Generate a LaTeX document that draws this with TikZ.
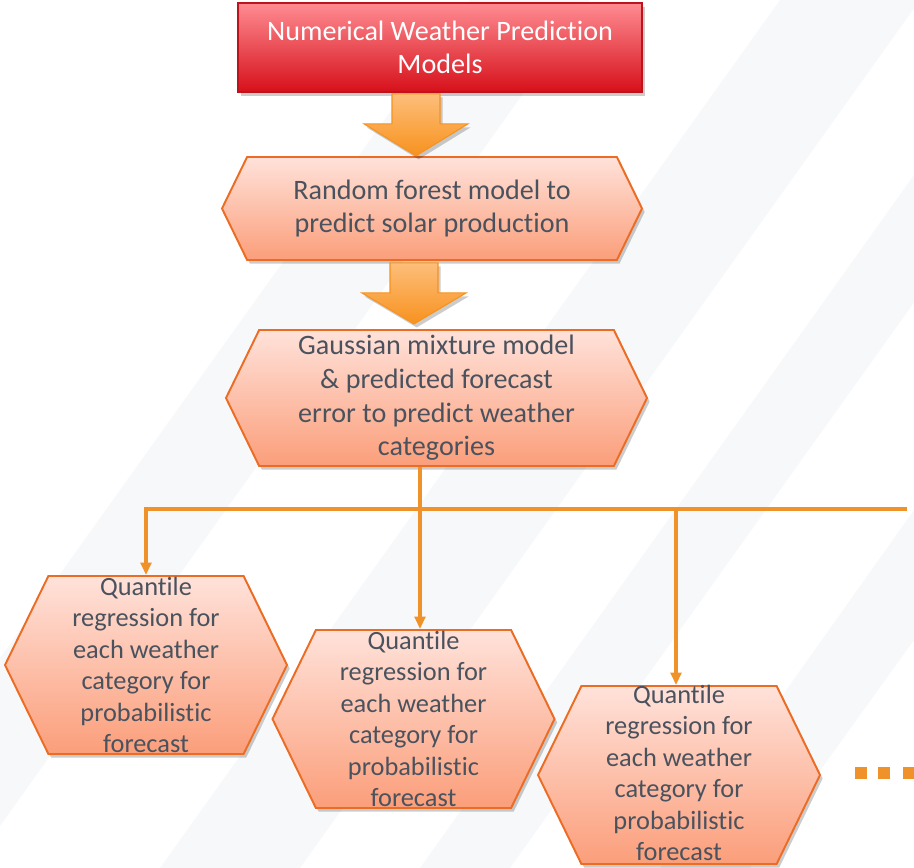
\documentclass[tikz,border=0pt]{standalone}
\usepackage{fontspec}
\setmainfont{Carlito}[Ligatures=NoCommon]
\usetikzlibrary{arrows.meta, positioning, shapes.symbols, shadows, calc}

\definecolor{nwptop}{RGB}{255,140,146}
\definecolor{nwpbot}{RGB}{214,16,26}
\definecolor{nwpline}{RGB}{190,18,28}
\definecolor{hextop}{RGB}{255,226,218}
\definecolor{hexbot}{RGB}{251,158,122}
\definecolor{hexline}{RGB}{236,108,36}
\definecolor{arrtop}{RGB}{253,190,122}
\definecolor{arrbot}{RGB}{247,146,30}
\definecolor{flowline}{RGB}{240,146,42}
\definecolor{txtgray}{RGB}{74,82,94}
\definecolor{stripe}{RGB}{247,248,250}

\newcommand{\quantiletext}{Quantile\\regression for\\each weather\\category for\\probabilistic\\forecast}

\tikzset{
  softshadow/.style={drop shadow={shadow xshift=1.5pt, shadow yshift=-2pt, opacity=0.2, fill=black}},
  hexbox/.style={signal, signal to=east and west, signal pointer angle=128, draw=hexline,
    line width=1.1pt, top color=hextop, bottom color=hexbot, text=txtgray, align=center,
    inner sep=0pt, softshadow},
  qbox/.style={hexbox, minimum width=5.64cm, minimum height=3.56cm},
  qtext/.style={text=txtgray, align=center, font=\fontsize{15}{17.9}\selectfont},
  bigarrow/.style={draw=arrbot, line width=0.6pt, top color=arrtop, bottom color=arrbot, softshadow},
  flow/.style={draw=flowline, line width=2.2pt, -{Triangle[width=6pt,length=7pt]}},
}

\begin{document}
\begin{tikzpicture}[font=\fontsize{16}{19.1}\selectfont]
  \useasboundingbox (0,0) rectangle (18.28,-17.36);
  % faint background stripes
  \fill[stripe] (-3,-17.36) -- (-0.6,-17.36) -- (11.8,0) -- (9.4,0) -- cycle;
  \fill[stripe] (3.2,-17.36) -- (6.0,-17.36) -- (18.4,0) -- (15.6,0) -- cycle;
  \fill[stripe] (8.4,-17.36) -- (10.2,-17.36) -- (18.28,-6.05) -- (18.28,-3.5) -- cycle;
  \fill[stripe] (13.2,-17.36) -- (15.0,-17.36) -- (18.28,-12.8) -- (18.28,-10.2) -- cycle;

  \node[rectangle, draw=nwpline, line width=1pt, top color=nwptop, bottom color=nwpbot,
    text=white, align=center, minimum width=8.08cm, minimum height=1.78cm, softshadow]
    (nwp) at (8.8,-0.95) {Numerical Weather Prediction\\Models};
  \node[hexbox, minimum width=8.4cm, minimum height=2.06cm] (rf) at (8.64,-4.17)
    {Random forest model to\\predict solar production};
  \node[hexbox, minimum width=8.42cm, minimum height=2.72cm] (gm) at (8.73,-7.96)
    {Gaussian mixture model\\\& predicted forecast\\error to predict weather\\categories};

  \node[qbox, label={[qtext]center:\quantiletext}] (q1) at (2.92,-13.30) {};
  \node[qbox, label={[qtext]center:\quantiletext}] (q2) at (8.27,-14.38) {};
  \node[qbox, label={[qtext, yshift=0.04cm]center:\quantiletext}] (q3) at (13.58,-15.50) {};

  % block arrows
  \shade[bigarrow] ([xshift=-0.96cm, yshift=-0.02cm]nwp.south) -- ++(0.96,0) -- ++(0,-0.6)
    -- ++(0.56,0) -- ++(-1.04,-0.64) -- ++(-1.04,0.64) -- ++(0.56,0) -- cycle;
  \shade[bigarrow] ([xshift=-0.84cm, yshift=-0.04cm]rf.south) -- ++(0.96,0) -- ++(0,-0.6)
    -- ++(0.56,0) -- ++(-1.04,-0.62) -- ++(-1.04,0.62) -- ++(0.56,0) -- cycle;

  % connectors
  \coordinate (busend) at (18.14,-10.18);
  \draw[flow] ([xshift=-0.33cm]gm.south) -- ([xshift=0.13cm]q2.north);
  \draw[flow] (busend) -| (q1.north);
  \draw[flow] ([xshift=-0.06cm]q3.north |- busend) -- ([xshift=-0.06cm]q3.north);

  % more to come
  \foreach \x in {17.1, 17.56, 18.06}
    \fill[flowline] (\x,-15.34) rectangle ++(0.23,-0.24);
\end{tikzpicture}
\end{document}
